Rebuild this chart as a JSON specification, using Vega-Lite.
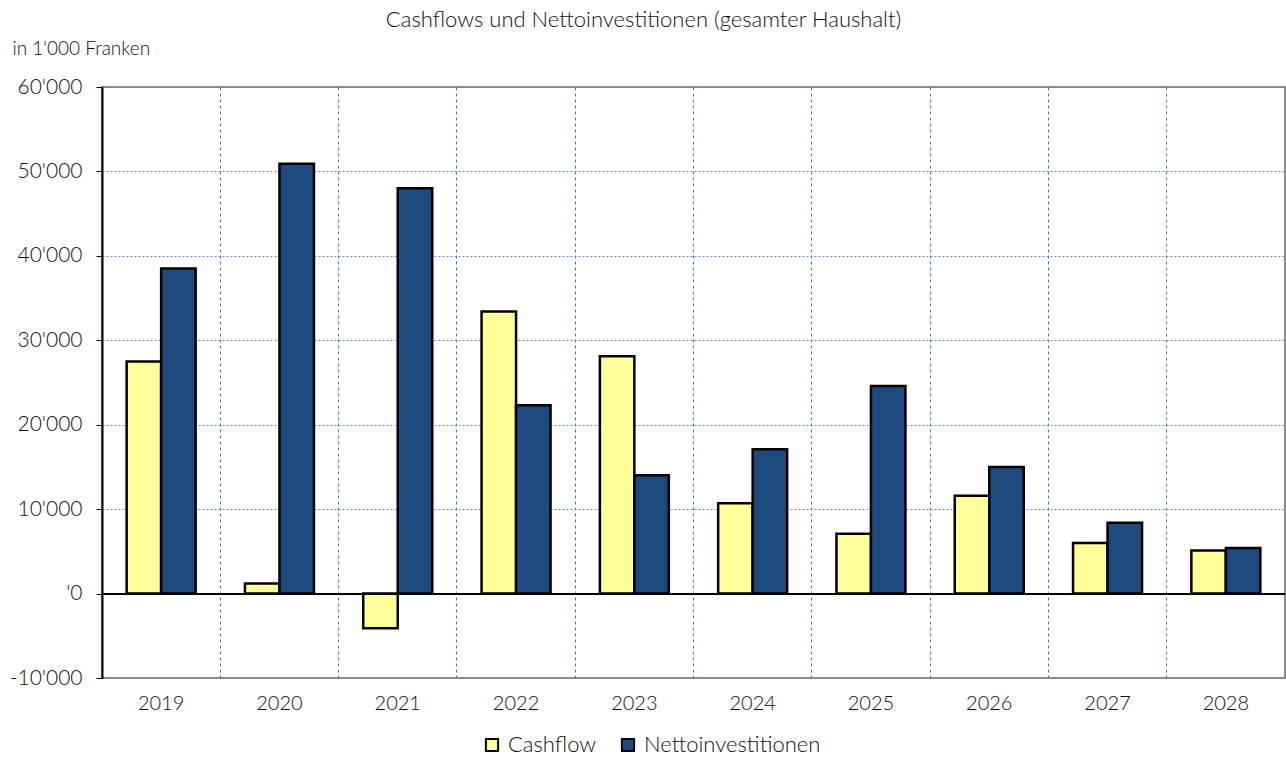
{
  "$schema": "https://vega.github.io/schema/vega-lite/v6.json",
  "width": 1183,
  "height": 591,
  "autosize": {"type": "none"},
  "padding": {"left": 102, "top": 87, "right": 1, "bottom": 84},
  "background": "white",
  "config": {
    "font": "Lato",
    "locale": {"number": {"decimal": ".", "thousands": "'", "grouping": [3], "currency": ["", ""], "minus": "-"}},
    "view": {"stroke": "#8c8c8c", "strokeWidth": 2},
    "axis": {"labelFont": "Lato", "labelColor": "#111", "labelFontWeight": 300, "titleFont": "Lato", "titleColor": "#111", "titleFontWeight": 300},
    "legend": {"labelFont": "Lato", "labelColor": "#111", "labelFontWeight": 300}
  },
  "title": {
    "text": "Cashflows und Nettoinvestitionen (gesamter Haushalt)",
    "fontSize": 22,
    "fontWeight": 300,
    "font": "Lato",
    "color": "#111",
    "anchor": "middle",
    "dx": -50,
    "offset": 7
  },
  "data": {
    "values": [
      {"year": "2019", "series": "Cashflow", "value": 27500},
      {"year": "2019", "series": "Nettoinvestitionen", "value": 38500},
      {"year": "2020", "series": "Cashflow", "value": 1200},
      {"year": "2020", "series": "Nettoinvestitionen", "value": 50900},
      {"year": "2021", "series": "Cashflow", "value": -4100},
      {"year": "2021", "series": "Nettoinvestitionen", "value": 48000},
      {"year": "2022", "series": "Cashflow", "value": 33400},
      {"year": "2022", "series": "Nettoinvestitionen", "value": 22300},
      {"year": "2023", "series": "Cashflow", "value": 28100},
      {"year": "2023", "series": "Nettoinvestitionen", "value": 14000},
      {"year": "2024", "series": "Cashflow", "value": 10700},
      {"year": "2024", "series": "Nettoinvestitionen", "value": 17100},
      {"year": "2025", "series": "Cashflow", "value": 7100},
      {"year": "2025", "series": "Nettoinvestitionen", "value": 24600},
      {"year": "2026", "series": "Cashflow", "value": 11600},
      {"year": "2026", "series": "Nettoinvestitionen", "value": 15000},
      {"year": "2027", "series": "Cashflow", "value": 6000},
      {"year": "2027", "series": "Nettoinvestitionen", "value": 8400},
      {"year": "2028", "series": "Cashflow", "value": 5100},
      {"year": "2028", "series": "Nettoinvestitionen", "value": 5400}
    ]
  },
  "layer": [
    {
      "mark": {"type": "bar", "stroke": "black", "strokeWidth": 2.5, "cornerRadius": 0},
      "encoding": {
        "x": {
          "field": "year", "type": "nominal", "title": null,
          "scale": {"paddingInner": 0, "paddingOuter": 0},
          "axis": {
            "bandPosition": 0,
            "labelAngle": 0,
            "labelFontSize": 20,
            "labelPadding": 15,
            "ticks": false,
            "domain": false,
            "grid": true,
            "gridColor": "#4a76b0",
            "gridDash": [3, 3],
            "gridWidth": 1
          }
        },
        "xOffset": {"field": "series", "type": "nominal", "sort": ["Cashflow", "Nettoinvestitionen"], "scale": {"paddingInner": 0, "paddingOuter": 0.715}},
        "y": {
          "field": "value", "type": "quantitative",
          "scale": {"domain": [-10000, 60000], "nice": false},
          "axis": {
            "values": [-10000, 0, 10000, 20000, 30000, 40000, 50000, 60000],
            "format": ",d",
            "labelExpr": "datum.value == 0 ? \"'0\" : datum.label",
            "labelFontSize": 21,
            "labelPadding": 14,
            "tickSize": 6,
            "tickColor": "black",
            "domainColor": "black",
            "domainWidth": 2,
            "grid": true,
            "gridColor": "#6b8fc4",
            "gridDash": [2, 2],
            "gridWidth": 1,
            "title": "in 1'000 Franken",
            "titleAngle": 0,
            "titleAlign": "left",
            "titleBaseline": "middle",
            "titleFontSize": 19,
            "titleX": -90,
            "titleY": -39
          }
        },
        "color": {
          "field": "series", "type": "nominal",
          "scale": {"domain": ["Cashflow", "Nettoinvestitionen"], "range": ["#FFFF99", "#1D4A7F"]},
          "legend": {
            "title": null,
            "orient": "none",
            "direction": "horizontal",
            "legendX": 379,
            "legendY": 647,
            "symbolType": "square",
            "symbolSize": 150,
            "symbolStrokeColor": "black",
            "symbolStrokeWidth": 2,
            "symbolOpacity": 1,
            "labelFontSize": 22,
            "labelLimit": 400,
            "labelOffset": 5,
            "columnPadding": 20
          }
        }
      }
    },
    {
      "mark": {"type": "rule", "color": "black", "strokeWidth": 1.2},
      "encoding": {"y": {"datum": 0}}
    }
  ]
}
